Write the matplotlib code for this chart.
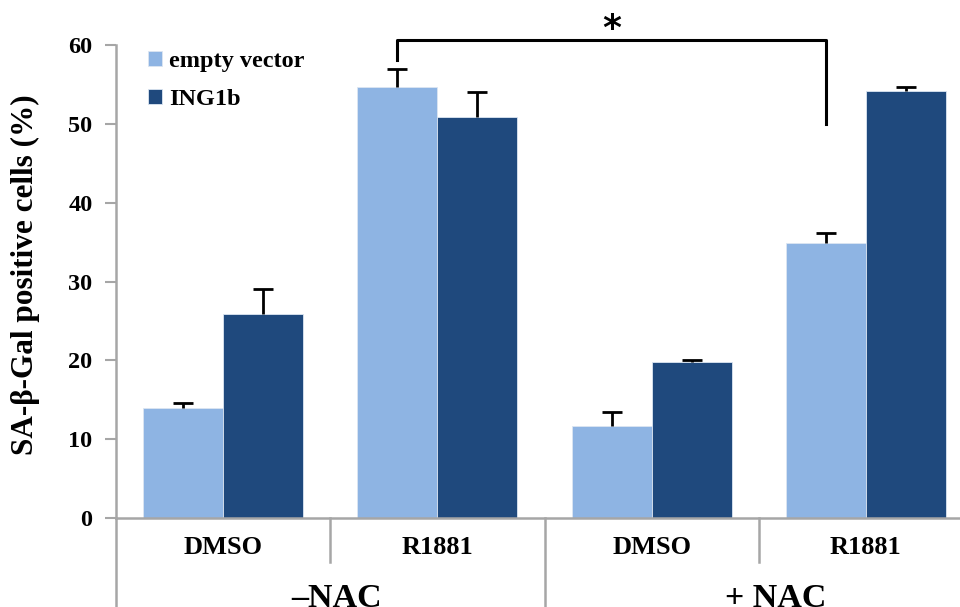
import numpy as np
import matplotlib.pyplot as plt
from matplotlib.lines import Line2D
import matplotlib.transforms as mtransforms

plt.rcParams['font.family'] = ['Liberation Serif', 'DejaVu Serif']
plt.rcParams['font.weight'] = 'bold'

# SA-beta-Gal staining, mean and SD
treatments = ['DMSO', 'R1881', 'DMSO', 'R1881']
nac_groups = ['\u2013NAC', '+ NAC']
empty_vec = [14.0, 54.7, 11.7, 34.9]
empty_err = [0.6, 2.3, 1.7, 1.2]
ing1b = [25.9, 50.9, 19.8, 54.2]
ing1b_err = [3.2, 3.1, 0.2, 0.5]

light = '#8EB4E3'
dark = '#1F497D'
grey = '#A6A6A6'

fig = plt.figure(figsize=(9.6, 6.07), dpi=100)
ax = fig.add_axes([116/960, 89/607, 857/960, 473/607])

x = np.arange(len(treatments)) + 0.5
w = 0.373
ekw = dict(ecolor='black', elinewidth=2, capsize=7, capthick=2)
b1 = ax.bar(x - w/2, empty_vec, w, color=light, edgecolor='#DCE6F2', linewidth=0.6,
            yerr=[np.zeros(4), empty_err], error_kw=ekw, label='empty vector')
b2 = ax.bar(x + w/2, ing1b, w, color=dark, edgecolor='#DCE6F2', linewidth=0.6,
            yerr=[np.zeros(4), ing1b_err], error_kw=ekw, label='ING1b')
# only the upper caps
for b in (b1, b2):
    b.errorbar.lines[1][0].set_visible(False)

ax.set_xlim(0, 4)
ax.set_ylim(0, 60)
ax.set_yticks(range(0, 61, 10))
ax.tick_params(axis='y', direction='out', length=8, width=1.5, color=grey,
               labelsize=17.5, pad=9)
ax.set_xticks([])
for s in ['top', 'right']:
    ax.spines[s].set_visible(False)
for s in ['left', 'bottom']:
    ax.spines[s].set_color(grey)
    ax.spines[s].set_linewidth(1.8)

ax.text(-0.106, 0.514, 'SA-\u03b2-Gal positive cells (%)', transform=ax.transAxes,
        rotation=90, ha='center', va='center', fontsize=22.5, fontweight='bold')

# category axis below the bars
trans = mtransforms.blended_transform_factory(ax.transData, ax.transAxes)
for xi, y0 in [(0, -0.2), (1, -0.092), (2, -0.2), (3, -0.092)]:
    ax.add_line(Line2D([xi, xi], [0, y0], transform=trans, color=grey,
                       lw=1.8, clip_on=False))
for xi, t in zip(x, treatments):
    ax.text(xi, -0.063, t, transform=trans, ha='center', va='center',
            fontsize=19, fontweight='bold')
for xi, t in zip([1.03, 3.08], nac_groups):
    ax.text(xi, -0.17, t, transform=trans, ha='center', va='center',
            fontsize=24.5, fontweight='bold')

# significance bracket
xl = x[1] - w/2
xr = x[3] - w/2
ax.plot([xl, xl, xr, xr], [58.1, 60.6, 60.6, 50.0], color='black', lw=2.2,
        clip_on=False)
ax.text((xl + xr) / 2, 62.0, '*', ha='center', va='center', fontsize=26,
        fontweight='bold', family=['DejaVu Sans'])

ax.legend(loc='upper left', bbox_to_anchor=(0.012, 1.033), frameon=False,
          fontsize=17.5, handlelength=0.55, handleheight=0.55, handletextpad=0.3,
          labelspacing=0.7)

fig.savefig('out.png', dpi=100)
